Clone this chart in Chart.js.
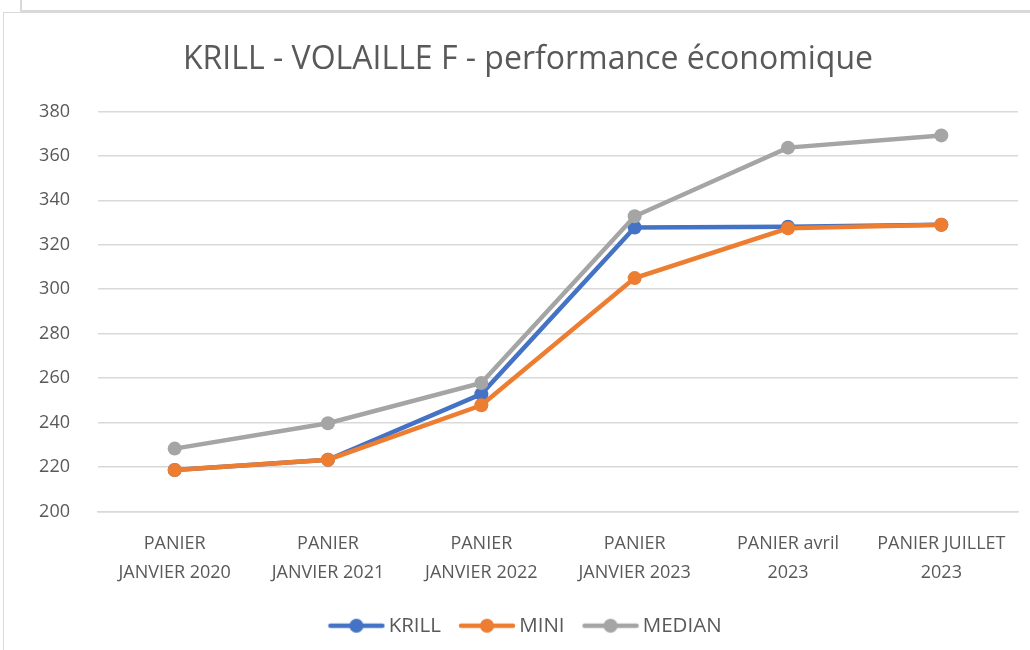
<!DOCTYPE html>
<html>
<head>
<meta charset="utf-8">
<script src="https://cdn.jsdelivr.net/npm/chart.js@4/dist/chart.umd.min.js"></script>
<style>
  html, body { margin: 0; padding: 0; background: #fff; overflow: hidden; }
  .topbox { position: absolute; left: 20px; top: -4px; width: 1020px; height: 12px; border: 2px solid #d9d9d9; }
  .frame { position: absolute; left: 3px; top: 12px; width: 1040px; height: 650px; border: 1px solid #d9d9d9; }
  .chart { position: absolute; left: 4px; top: 13px; width: 1026px; height: 637px; }
</style>
</head>
<body>
<div class="topbox"></div>
<div class="frame"></div>
<div class="chart"><canvas id="c"></canvas></div>
<script>
// values
var categories = [
  ["PANIER", "JANVIER 2020"],
  ["PANIER", "JANVIER 2021"],
  ["PANIER", "JANVIER 2022"],
  ["PANIER", "JANVIER 2023"],
  ["PANIER avril", "2023"],
  ["PANIER JUILLET", "2023"]
];
var krill  = [218.7, 223.3, 252.8, 327.8, 328.1, 329.0];
var mini   = [218.7, 223.3, 247.8, 305.0, 327.4, 329.0];
var median = [228.3, 239.7, 257.8, 332.8, 363.7, 369.2];

var yMin = 200, yMax = 380, yStep = 20;

var FONT = "'Open Sans', 'Noto Sans', sans-serif";
var TEXT = "#595959";

// legend swatch: short line with a dot in the middle, like the office chart
function swatch(color) {
  var cv = document.createElement("canvas");
  cv.width = 58; cv.height = 18;
  var g = cv.getContext("2d");
  g.strokeStyle = color;
  g.lineWidth = 4.5;
  g.lineCap = "round";
  g.beginPath(); g.moveTo(3, 9); g.lineTo(55, 9); g.stroke();
  g.fillStyle = color;
  g.beginPath(); g.arc(29, 9, 7, 0, Math.PI * 2); g.fill();
  return cv;
}

function series(label, data, color, order) {
  return {
    label: label,
    data: data,
    borderColor: color,
    backgroundColor: color,
    borderWidth: 4.5,
    pointRadius: 7,
    pointHoverRadius: 7,
    pointBorderWidth: 0,
    tension: 0,
    order: order,
    swatch: swatch(color)
  };
}

new Chart(document.getElementById("c"), {
  type: "line",
  data: {
    labels: categories,
    datasets: [
      series("KRILL", krill, "#4472C4", 2),
      series("MINI", mini, "#ED7D31", 1),
      series("MEDIAN", median, "#A5A5A5", 0)
    ]
  },
  options: {
    responsive: true,
    maintainAspectRatio: false,
    animation: false,
    // left padding pushes the centred title to the right, as in the reference
    layout: { padding: { left: 34, right: 12, top: 0, bottom: 4 } },
    plugins: {
      title: {
        display: true,
        text: "KRILL - VOLAILLE F - performance économique",
        color: TEXT,
        font: { family: FONT, size: 32, weight: "normal" },
        padding: { top: 28, bottom: 32 }
      },
      legend: {
        position: "bottom",
        labels: {
          color: TEXT,
          font: { family: FONT, size: 20.5 },
          usePointStyle: true,
          pointStyleWidth: 44,
          padding: 24,
          sort: function(a, b) { return a.datasetIndex - b.datasetIndex; },
          generateLabels: function(chart) {
            return chart.data.datasets.map(function(ds, i) {
              return {
                text: ds.label,
                fontColor: TEXT,
                pointStyle: ds.swatch,
                strokeStyle: ds.borderColor,
                fillStyle: ds.backgroundColor,
                lineWidth: 0,
                hidden: false,
                datasetIndex: i
              };
            });
          }
        }
      },
      tooltip: { enabled: false }
    },
    scales: {
      x: {
        offset: true,
        grid: { display: false, drawTicks: false },
        border: { color: "#d9d9d9", width: 1.5 },
        ticks: {
          color: TEXT,
          font: { family: FONT, size: 18, lineHeight: 1.6 },
          padding: 18,
          maxRotation: 0,
          autoSkip: false
        },
        afterFit: function(s) { s.height = 80; }
      },
      y: {
        min: yMin,
        max: yMax,
        grid: { color: "#d9d9d9", lineWidth: 1.5, drawTicks: false },
        border: { display: false },
        ticks: {
          stepSize: yStep,
          color: TEXT,
          font: { family: FONT, size: 18 },
          padding: 28
        },
        afterFit: function(s) { s.width = 60; }
      }
    }
  }
});
</script>
</body>
</html>
